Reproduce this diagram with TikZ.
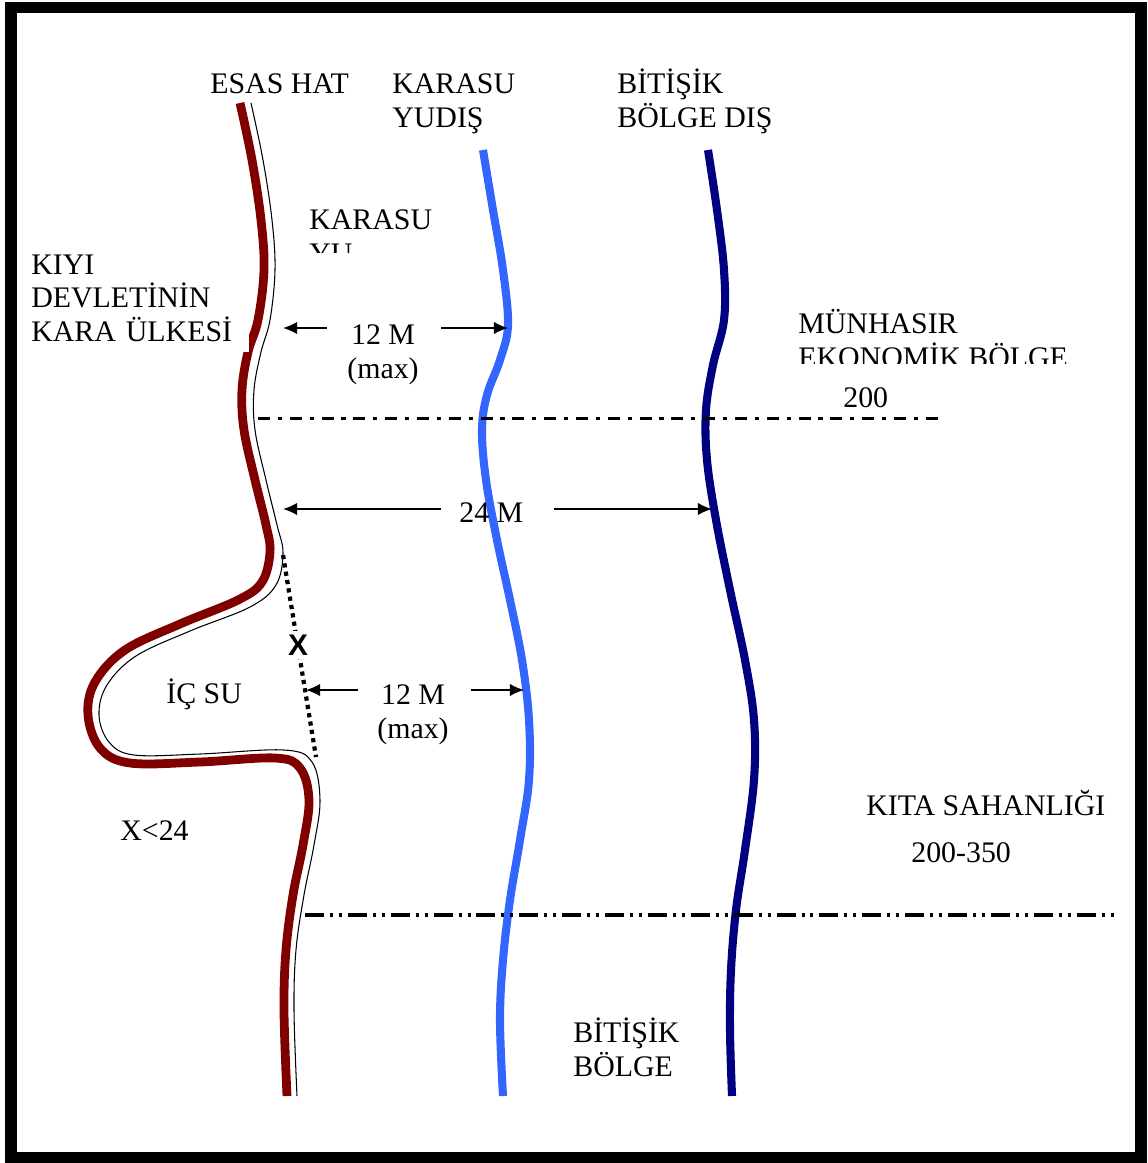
\documentclass[tikz,border=0pt]{standalone}
\usepackage{fontspec}
\setmainfont{Liberation Serif}
\setsansfont{Liberation Sans}
\usepackage{tikz}
\usetikzlibrary{arrows.meta}
\definecolor{esasred}{HTML}{800000}
\definecolor{karasublue}{HTML}{3366FF}
\definecolor{bitisiknavy}{HTML}{000080}
\tikzset{
	lbl/.style={font=\fontsize{17}{19.3}\selectfont, inner sep=0pt, anchor=base west, align=left},
	sealine/.style={line width=4.6pt},
	dimarrow/.style={line width=0.85pt, -{Latex[length=8pt,width=7pt]}},
	limit200/.style={line width=1.7pt, dash pattern=on 6.8pt off 4.5pt on 2.3pt off 4.5pt},
	limit350/.style={line width=2.2pt, dash pattern=on 10.8pt off 3.4pt on 1.7pt off 3.4pt on 1.7pt off 3.4pt},
}

\begin{document}
\begin{tikzpicture}[x=0.02cm, y=-0.02cm]
	\useasboundingbox (0,0) rectangle (1148,1163);
	\draw [line width=6.3pt] (11,7.5) rectangle (1141,1158);

	% coast (esas hat) with its thin outline on the sea side
	\draw [esasred, line width=5pt] plot [smooth, tension=0.6] coordinates {(240,103) (252,160) (261,220) (264,270) (258,320) (248,352) (242,390) (244,430) (255,480) (266,525) (270,552) (262,582) (238,600) (180,624) (125,650) (95,682) (88,715) (100,748) (130,763) (200,762) (275,758) (300,768) (309,800) (303,845) (293,895) (286,950) (284,1010) (287,1096)};
	\draw [line width=0.6pt] plot [smooth, tension=0.6] coordinates {(251,103) (263,160) (272,220) (275,270) (270,320) (261,352) (254,390) (255,430) (266,480) (277,525) (283,553) (276,585) (250,607) (190,631) (136,656) (107,685) (99,715) (109,742) (134,755) (200,754) (284,750) (312,762) (320,800) (314,845) (304,895) (296,950) (294,1010) (297,1096)};
	\draw [sealine, karasublue] plot [smooth, tension=0.6] coordinates {(483,150) (493,210) (503,270) (508,325) (500,360) (487,395) (482,430) (486,480) (497,540) (510,600) (522,660) (529,720) (529,780) (520,840) (510,900) (503,960) (500,1020) (503,1096)};
	\draw [sealine, bitisiknavy] plot [smooth, tension=0.6] coordinates {(708,150) (717,210) (724,270) (724,320) (713,365) (706,410) (707,460) (716,520) (730,590) (745,660) (754,720) (754,780) (745,850) (736,910) (731,970) (730,1030) (732,1096)};

	\draw [limit200] (258,418) -- (938,418);
	\draw [limit350] (305,915) -- (1118,915);

	% closing line of the bay
	\coordinate (bayA) at (283,555);
	\coordinate (bayB) at (316,757);
	\draw [line width=2.4pt, dash pattern=on 2.4pt off 2.4pt] (bayA) -- (bayB);
	\node [font=\fontsize{17}{20}\sffamily\bfseries, fill=white, inner sep=2pt] (xgap) at (298,645) {X};

	% headings (base = last line)
	\node [lbl] (esas) at (210,93) {ESAS HAT};
	\node [lbl] (karasudis) at (392,127) {KARASU\\YUDIŞ};
	\node [lbl] (bitisikdis) at (617,127) {BİTİŞİK\\BÖLGE DIŞ};

	\begin{scope}
		\clip (300,195) rectangle (450,252);
		\node [lbl] (karasu) at (309,263) {KARASU\\YU};
	\end{scope}
	\begin{scope}
		\clip (790,300) rectangle (1100,363);
		\node [lbl] (munhasir) at (798,367) {MÜNHASIR\\EKONOMİK BÖLGE};
	\end{scope}

	\node [lbl, fill=white, text width=124pt, inner ysep=5.5pt] (kiyi) at (31,274) {KIYI\\DEVLETİNİN\\KARA ÜLKESİ};
	\node [lbl] (mil200) at (843,407) {200};
	\node [lbl] (icsu) at (166,703) {İÇ SU};
	\node [lbl] (xless) at (120,840) {X<24};
	\node [lbl] (kita) at (866,815) {KITA SAHANLIĞI};
	\node [lbl] (mil350) at (911,862) {200-350};
	\node [lbl] (bitisik) at (573,1076) {BİTİŞİK\\BÖLGE};

	% distances
	\node [lbl, align=center] (karasuw) at (347,378) {12 M\\(max)};
	\node [lbl] (bitisikw) at (459,522) {24 M};
	\node [lbl, align=center] (icsuw) at (377,738) {12 M\\(max)};

	\coordinate (k1) at (283,328); \coordinate (k2) at (508,328);
	\coordinate (b1) at (283,509); \coordinate (b2) at (712,509);
	\coordinate (i1) at (306,690); \coordinate (i2) at (524,690);
	\draw [dimarrow] (327,328) -- (k1);
	\draw [dimarrow] (441,328) -- (k2);
	\draw [dimarrow] (441,509) -- (b1);
	\draw [dimarrow] (554,509) -- (b2);
	\draw [dimarrow] (358,690) -- (i1);
	\draw [dimarrow] (471,690) -- (i2);
\end{tikzpicture}
\end{document}
